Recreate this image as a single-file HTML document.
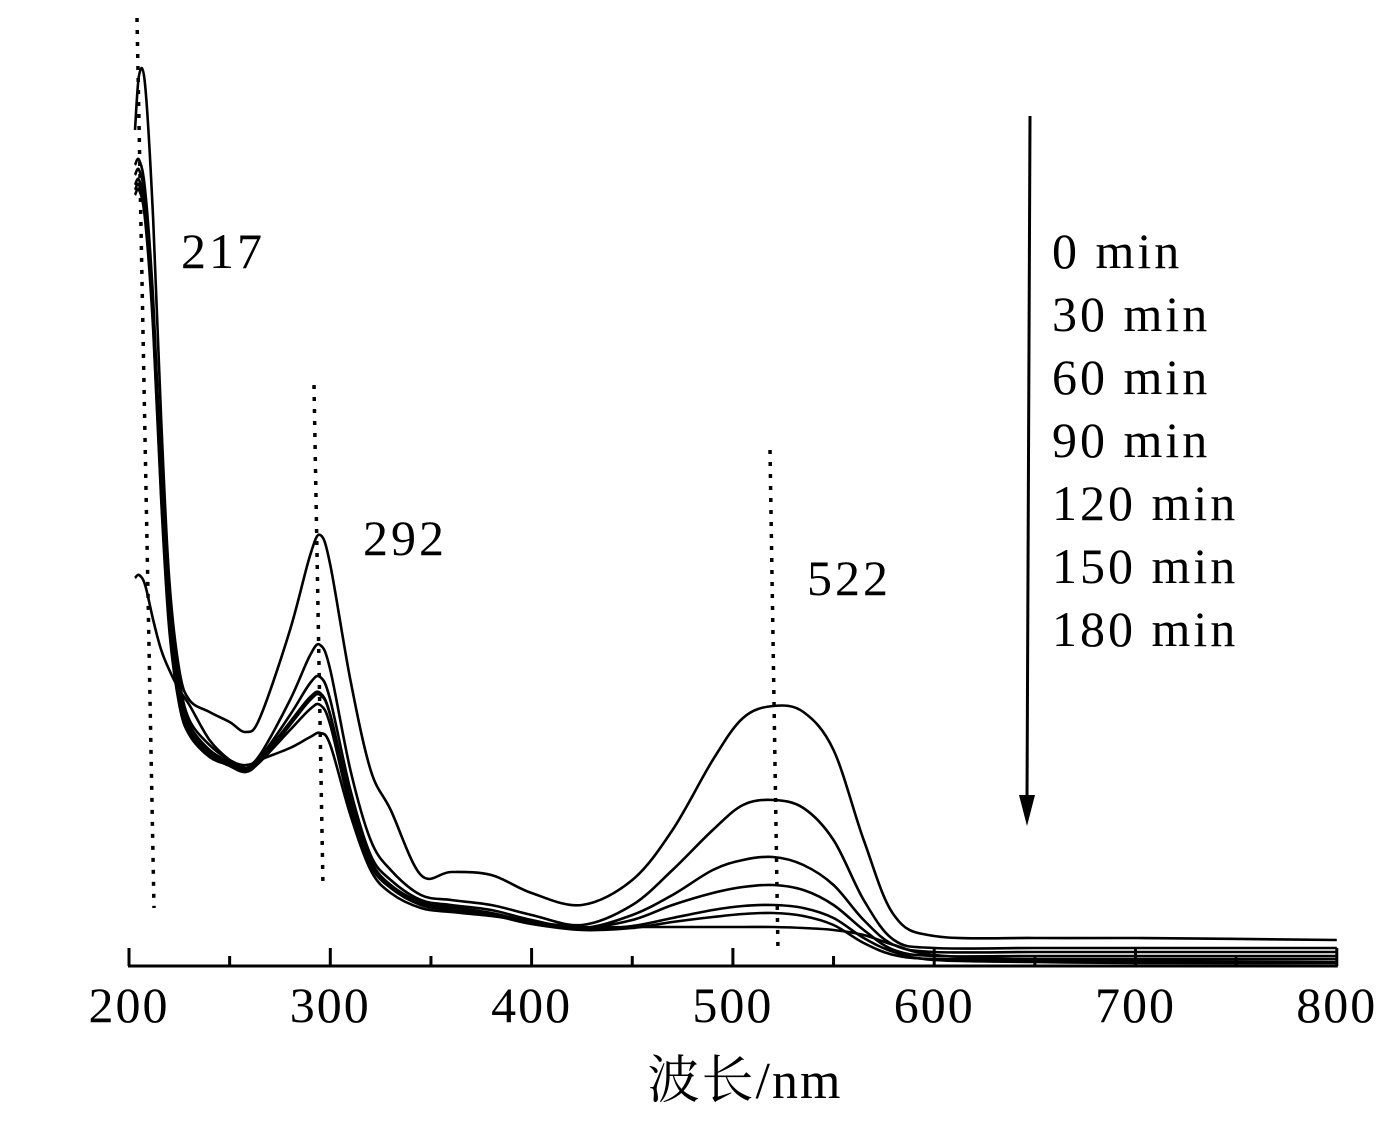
<!DOCTYPE html>
<html><head><meta charset="utf-8"><style>
html,body{margin:0;padding:0;background:#fff;}
svg{display:block;font-family:"Liberation Serif","Noto Serif CJK SC",serif;}
</style></head><body>
<svg id="chart" width="1398" height="1124" viewBox="0 0 1398 1124" xmlns="http://www.w3.org/2000/svg">
<g id="curves"></g>
<g id="axis"></g>
<g stroke="#000" stroke-width="3.5" stroke-dasharray="4 8" fill="none">
<line x1="137" y1="18" x2="154" y2="908"/>
<line x1="314" y1="385" x2="323" y2="888"/>
<line x1="770" y1="450" x2="778" y2="952"/>
</g>
<g font-size="50" fill="#000" letter-spacing="3">
<text x="181" y="268">217</text>
<text x="363" y="555">292</text>
<text x="807" y="595">522</text>
</g>
<g>
<line x1="1030" y1="116" x2="1027" y2="800" stroke="#000" stroke-width="3"/>
<polygon points="1019,795 1035,795 1027,826" fill="#000"/>
</g>
<g font-size="50" fill="#000" letter-spacing="3">
<text x="1052" y="268">0 min</text>
<text x="1052" y="331">30 min</text>
<text x="1052" y="394">60 min</text>
<text x="1052" y="457">90 min</text>
<text x="1052" y="520">120 min</text>
<text x="1052" y="583">150 min</text>
<text x="1052" y="646">180 min</text>
</g>
<text x="745" y="1098" font-size="52" letter-spacing="2" text-anchor="middle">波长/nm</text>
</svg>
<script>
const wavelengths=[203,205,208,212,216,220,225,230,240,250,258,265,280,290,295,300,310,320,330,345,360,380,400,425,450,470,490,505,520,535,550,565,580,600,650,700,800];
const s0=[8.36,8.91,8.81,7.46,5.46,3.86,2.96,2.66,2.54,2.44,2.34,2.48,3.36,4.11,4.31,4.01,2.86,1.96,1.56,0.91,0.94,0.91,0.73,0.61,0.86,1.36,2.06,2.48,2.60,2.54,2.16,1.26,0.51,0.30,0.28,0.28,0.26];
const s30=[8.01,8.06,7.76,6.66,4.96,3.66,2.86,2.46,2.21,2.06,2.01,2.11,2.66,3.11,3.21,2.96,1.96,1.26,0.96,0.71,0.66,0.61,0.51,0.41,0.61,0.96,1.36,1.61,1.66,1.58,1.26,0.66,0.26,0.18,0.18,0.18,0.18];
const s60=[7.91,7.96,7.66,6.56,4.86,3.56,2.76,2.41,2.16,2.04,1.98,2.08,2.51,2.83,2.89,2.66,1.76,1.11,0.86,0.66,0.61,0.56,0.46,0.38,0.51,0.71,0.96,1.06,1.09,1.01,0.81,0.46,0.21,0.14,0.14,0.14,0.14];
const s90=[7.81,7.86,7.56,6.46,4.76,3.46,2.71,2.36,2.14,2.02,1.96,2.06,2.44,2.69,2.73,2.51,1.66,1.06,0.81,0.64,0.59,0.53,0.44,0.38,0.46,0.61,0.73,0.79,0.81,0.76,0.61,0.36,0.16,0.10,0.10,0.10,0.10];
const s120=[7.76,7.81,7.51,6.41,4.71,3.41,2.66,2.33,2.11,2.00,1.94,2.04,2.36,2.57,2.61,2.41,1.58,1.01,0.78,0.61,0.56,0.51,0.42,0.36,0.38,0.44,0.49,0.52,0.53,0.50,0.41,0.23,0.11,0.07,0.07,0.07,0.07];
const s150=[7.71,7.76,7.46,6.36,4.66,3.36,2.61,2.31,2.09,2.01,1.98,2.06,2.18,2.29,2.33,2.21,1.51,0.96,0.73,0.58,0.54,0.50,0.44,0.39,0.39,0.39,0.39,0.39,0.39,0.38,0.36,0.31,0.21,0.11,0.06,0.05,0.04];
const s180=[3.88,3.91,3.81,3.46,3.16,2.96,2.76,2.61,2.26,2.06,1.98,2.04,2.41,2.66,2.71,2.51,1.66,1.04,0.79,0.62,0.57,0.52,0.43,0.37,0.40,0.48,0.56,0.60,0.61,0.58,0.48,0.28,0.14,0.06,0.04,0.03,0.03];
const seriesList=[s0,s30,s60,s90,s120,s150,s180];
const seriesNames=['curve-0-min','curve-30-min','curve-60-min','curve-90-min','curve-120-min','curve-150-min','curve-180-min'];
const xTicks=[200,300,400,500,600,700,800];
const xMinor=[250,350,450,550,650,750];
const NS='http://www.w3.org/2000/svg';
function xs(w){return 129+(w-200)*2.013;}
function ys(a){return 966-a*100;}
const cg=document.getElementById('curves');
seriesList.forEach((s,i)=>{
  const pts=wavelengths.map((w,j)=>[xs(w),ys(s[j])]);
  let d='M'+pts[0][0].toFixed(1)+','+pts[0][1].toFixed(1);
  for(let k=0;k<pts.length-1;k++){
    const p0=pts[Math.max(0,k-1)],p1=pts[k],p2=pts[k+1],p3=pts[Math.min(pts.length-1,k+2)];
    const c1=[p1[0]+(p2[0]-p0[0])/6,p1[1]+(p2[1]-p0[1])/6];
    const c2=[p2[0]-(p3[0]-p1[0])/6,p2[1]-(p3[1]-p1[1])/6];
    d+=' C'+c1[0].toFixed(1)+','+c1[1].toFixed(1)+' '+c2[0].toFixed(1)+','+c2[1].toFixed(1)+' '+p2[0].toFixed(1)+','+p2[1].toFixed(1);
  }
  const p=document.createElementNS(NS,'path');
  p.setAttribute('d',d);p.setAttribute('fill','none');p.setAttribute('stroke','#000');p.setAttribute('stroke-width','2.6');
  
  
  cg.appendChild(p);
});
const ag=document.getElementById('axis');
const al=document.createElementNS(NS,'line');
al.setAttribute('x1',xs(200)-1);al.setAttribute('x2',xs(800)+1);al.setAttribute('y1',966);al.setAttribute('y2',966);
al.setAttribute('stroke','#000');al.setAttribute('stroke-width','3');


ag.appendChild(al);
xTicks.forEach(t=>{
  const l=document.createElementNS(NS,'line');
  l.setAttribute('x1',xs(t));l.setAttribute('x2',xs(t));l.setAttribute('y1',948);l.setAttribute('y2',966);
  l.setAttribute('stroke','#000');l.setAttribute('stroke-width','3');
  
  
  ag.appendChild(l);
  const tx=document.createElementNS(NS,'text');
  tx.setAttribute('x',xs(t));tx.setAttribute('y',1022);tx.setAttribute('font-size','50');tx.setAttribute('letter-spacing','2');tx.setAttribute('text-anchor','middle');
  tx.textContent=t;
  
  
  ag.appendChild(tx);
});
xMinor.forEach(t=>{
  const l=document.createElementNS(NS,'line');
  l.setAttribute('x1',xs(t));l.setAttribute('x2',xs(t));l.setAttribute('y1',956);l.setAttribute('y2',966);
  l.setAttribute('stroke','#000');l.setAttribute('stroke-width','3');
  
  
  ag.appendChild(l);
});
</script>
</body></html>
